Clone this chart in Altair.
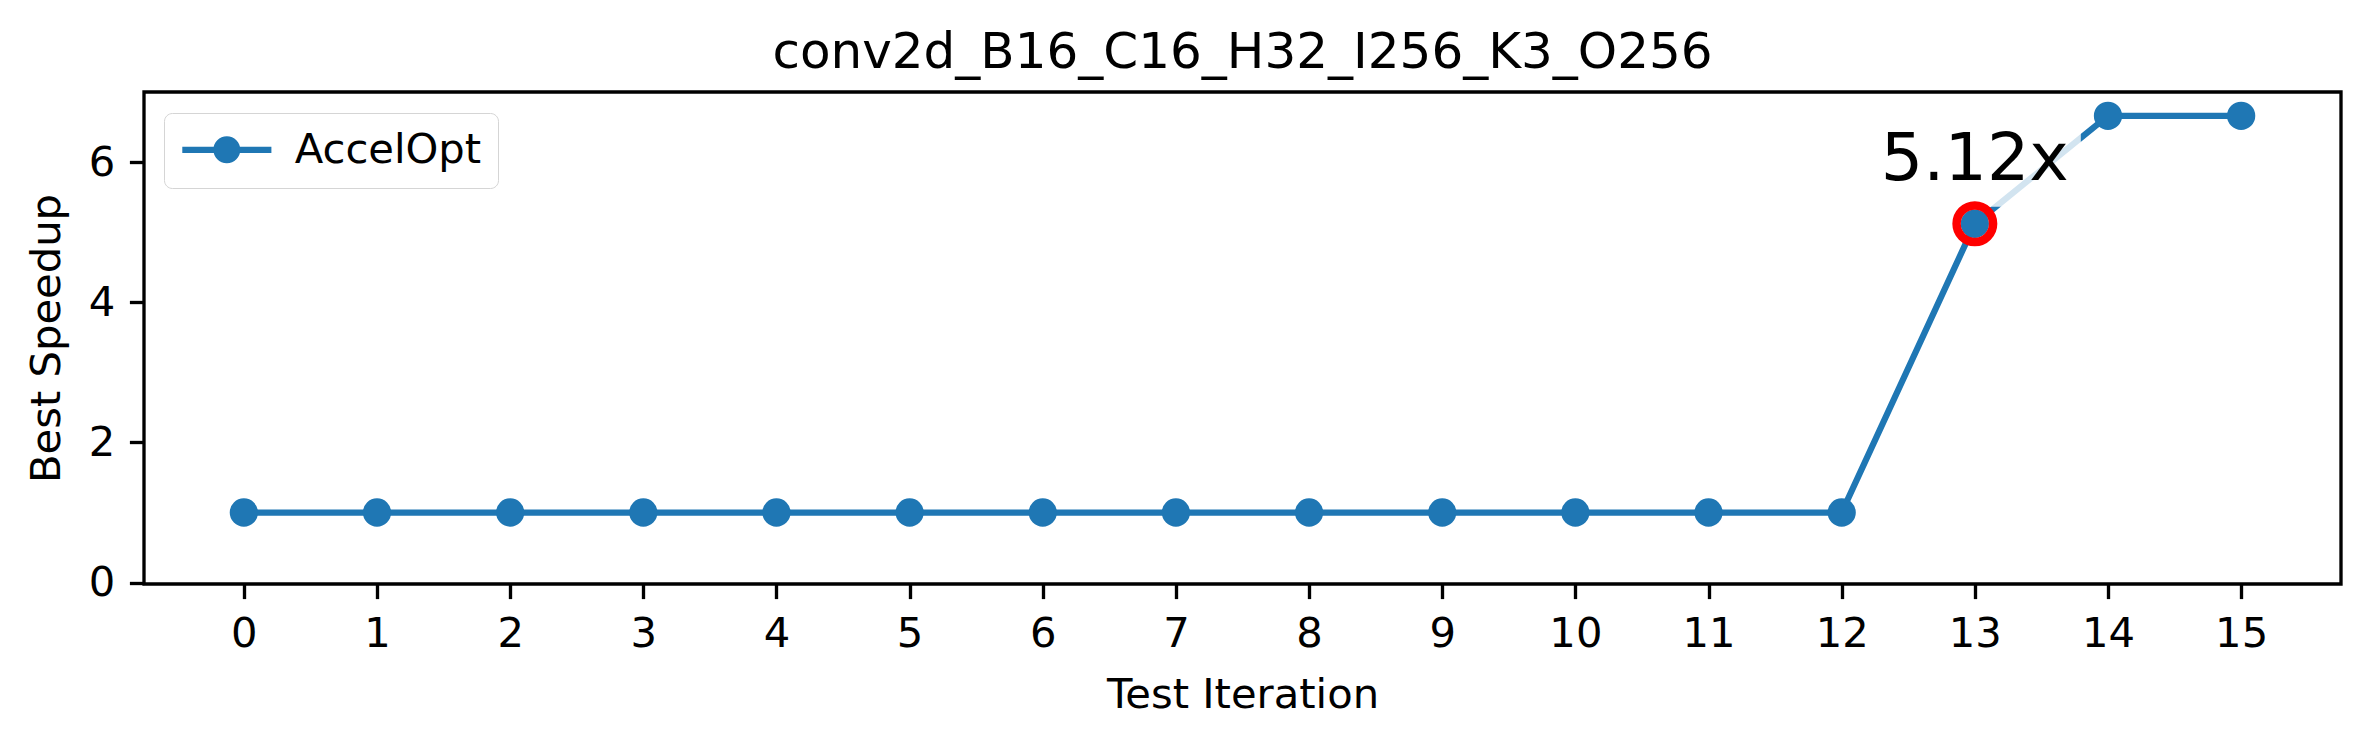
import altair as alt
import pandas as pd

# ---- data ----
iterations = [0, 1, 2, 3, 4, 5, 6, 7, 8, 9, 10, 11, 12, 13, 14, 15]
best_speedup = [1.0, 1.0, 1.0, 1.0, 1.0, 1.0, 1.0, 1.0, 1.0, 1.0, 1.0, 1.0, 1.0, 5.12, 6.66, 6.66]
series_name = "AccelOpt"
highlight_iter = [13]
highlight_value = [5.12]
highlight_label = ["5.12x"]
x_ticks = [0, 1, 2, 3, 4, 5, 6, 7, 8, 9, 10, 11, 12, 13, 14, 15]
y_ticks = [0, 2, 4, 6]
chart_title = "conv2d_B16_C16_H32_I256_K3_O256"

df = pd.DataFrame({"iteration": iterations, "speedup": best_speedup, "series": series_name})
hl = pd.DataFrame({"iteration": highlight_iter, "speedup": highlight_value, "label": highlight_label})

FONT = "DejaVu Sans"
BLUE = "#1f77b4"

x = alt.X("iteration:Q",
          scale=alt.Scale(domain=[-0.75, 15.75], nice=False, zero=False),
          axis=alt.Axis(values=x_ticks, format="d", title="Test Iteration", titlePadding=20))
y = alt.Y("speedup:Q",
          scale=alt.Scale(domain=[-0.02, 7.0], nice=False, zero=False),
          axis=alt.Axis(values=y_ticks, format="d", title="Best Speedup", titlePadding=20))

legend_symbol = ("M -3.3 -0.23 L 3.3 -0.23 L 3.3 0.23 L -3.3 0.23 Z "
                 "M 1 0 A 1 1 0 1 1 -1 0 A 1 1 0 1 1 1 0 Z")

color = alt.Color("series:N",
                  scale=alt.Scale(domain=[series_name], range=[BLUE]),
                  legend=alt.Legend(title=None, orient="none", legendX=20, legendY=21,
                                    symbolType=legend_symbol, symbolSize=729,
                                    symbolFillColor=BLUE, symbolStrokeWidth=0,
                                    symbolOffset=26, labelOffset=47, padding=16,
                                    strokeColor="#d5d5d5", fillColor="white",
                                    cornerRadius=8, labelFontSize=41.7, labelFont=FONT,
                                    labelColor="black", labelLimit=1000))

line = alt.Chart(df).mark_line(strokeWidth=6.25).encode(x=x, y=y, color=color)
pts = alt.Chart(df).mark_point(filled=True, size=800, opacity=1).encode(x=x, y=y, color=color)
box_path = "M -1 -0.434 L 1 -0.434 L 1 0.434 L -1 0.434 Z"
box = alt.Chart(hl).mark_point(filled=True, shape=box_path, size=44944, color="white",
                               opacity=0.8, strokeWidth=0, yOffset=-63).encode(x=x, y=y)
ring = alt.Chart(hl).mark_point(filled=False, size=1332, color="#ff0000",
                                strokeWidth=8.5, opacity=1).encode(x=x, y=y)
text = alt.Chart(hl).mark_text(fontSize=66.7, font=FONT, baseline="alphabetic",
                               align="center", dy=-44, color="black").encode(
    x=x, y=y, text="label:N")

chart = alt.layer(line, pts, box, ring, text).properties(
    width=2197, height=492,
    title=alt.TitleParams(chart_title, fontSize=50, font=FONT, fontWeight="normal",
                          color="black", offset=14,
                          anchor="middle", frame="group"),
    padding={"left": 136, "top": 84, "right": 20, "bottom": 150},
    autosize=alt.AutoSizeParams(type="none"),
).configure_view(
    stroke="black", strokeWidth=3.33
).configure_axis(
    domain=False, grid=False, tickColor="black", tickWidth=3.33, tickSize=14.6,
    labelPadding=14.6, labelFontSize=41.7, labelFont=FONT, labelColor="black",
    titleFontSize=41.7, titleFont=FONT, titleFontWeight="normal", titleColor="black"
)

chart.save("out.html", embed_options={"renderer": "svg", "actions": False})
